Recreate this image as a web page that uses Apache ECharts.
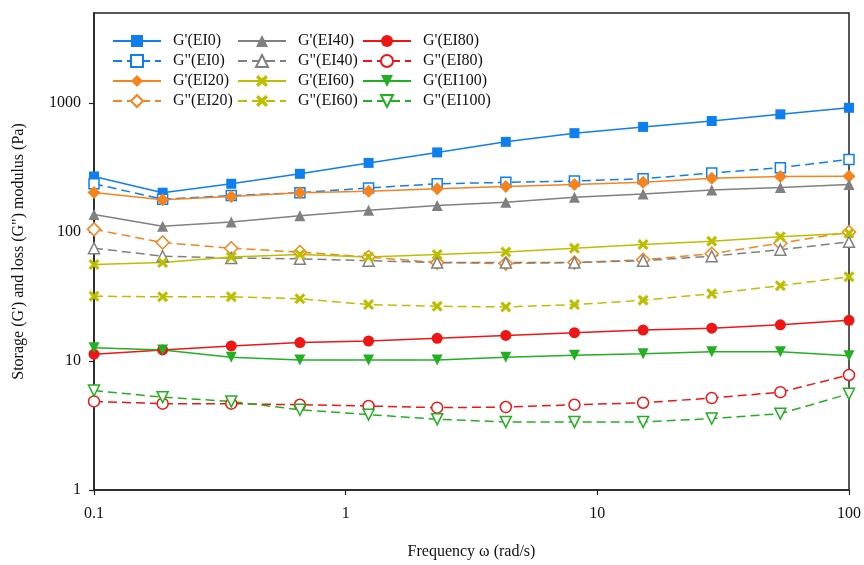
<!DOCTYPE html>
<html>
<head>
<meta charset="utf-8">
<script src="https://cdn.jsdelivr.net/npm/echarts@6/dist/echarts.min.js"></script>
<style>
html,body{margin:0;padding:0;background:#fff;}
#chart{width:864px;height:565px;}
</style>
</head>
<body>
<div id="chart"></div>
<script>
// Frequency (rad/s)
const freq = [0.1, 0.1874, 0.3511, 0.6579, 1.233, 2.31, 4.329, 8.111, 15.2, 28.48, 53.37, 100];

const gp_EI0   = [270, 202, 237, 283, 344, 415, 501, 585, 654, 727, 819, 920];
const gpp_EI0  = [237, 180, 192, 202, 220, 237, 243, 249, 259, 287, 316, 366];
const gp_EI20  = [203, 178, 189, 202, 207, 217, 226, 234, 243, 261, 270, 271];
const gpp_EI20 = [105, 83, 75, 70, 64, 58, 57, 58, 61, 68, 82, 100];
const gp_EI40  = [137, 111, 120, 134, 148, 161, 170, 186, 197, 212, 222, 234];
const gpp_EI40 = [75, 65, 63, 62, 60, 58, 58, 58, 60, 65, 73, 84];
const gp_EI60  = [56, 58, 64, 67, 64, 67, 70, 75, 80, 85, 92, 98];
const gpp_EI60 = [31.8, 31.5, 31.5, 30.4, 27.4, 26.6, 26.3, 27.4, 29.6, 33.3, 38.4, 45];
const gp_EI80  = [11.3, 12.2, 13.1, 13.9, 14.3, 15.0, 15.8, 16.6, 17.4, 18.0, 19.1, 20.7];
const gpp_EI80 = [4.86, 4.67, 4.67, 4.58, 4.48, 4.35, 4.40, 4.58, 4.75, 5.16, 5.74, 7.8];
const gp_EI100 = [12.7, 12.2, 10.7, 10.2, 10.2, 10.2, 10.7, 11.1, 11.4, 11.8, 11.8, 11.0];
const gpp_EI100= [5.9, 5.25, 4.86, 4.19, 3.84, 3.54, 3.37, 3.37, 3.37, 3.58, 3.91, 5.57];

const xTicks = [0.1, 1, 10, 100];
const yTicks = [1, 10, 100, 1000];

const FONT = "'Liberation Serif', 'Times New Roman', serif";
const C = {
  blue: '#0f7ff0', orange: '#f5841f', gray: '#808080',
  olive: '#bcbf00', red: '#ee1515', green: '#22b022'
};
const XSYM = 'path://M0,2 L2,0 L5,3 L8,0 L10,2 L7,5 L10,8 L8,10 L5,7 L2,10 L0,8 L3,5 Z';

function mk(name, vals, color, symbol, size, filled, dashed, rotate) {
  return {
    name: name,
    type: 'line',
    data: freq.map((f, i) => [f, vals[i]]),
    symbol: symbol,
    symbolSize: size,
    symbolRotate: rotate || 0,
    showAllSymbol: true,
    color: color,
    lineStyle: { color: color, width: 1.5, type: dashed ? [9, 5] : 'solid' },
    itemStyle: filled ? { color: color, borderWidth: 0 } : { color: '#ffffff', borderColor: color, borderWidth: 1.5 },
    emphasis: { disabled: true },
    animation: false,
    z: 3
  };
}

const series = [
  mk("G'(EI0)", gp_EI0, C.blue, 'rect', 10, true, false),
  mk('G"(EI0)', gpp_EI0, C.blue, 'rect', 10, false, true),
  mk("G'(EI20)", gp_EI20, C.orange, 'diamond', 13, true, false),
  mk('G"(EI20)', gpp_EI20, C.orange, 'diamond', 13, false, true),
  mk("G'(EI40)", gp_EI40, C.gray, 'triangle', 11, true, false),
  mk('G"(EI40)', gpp_EI40, C.gray, 'triangle', 11, false, true),
  mk("G'(EI60)", gp_EI60, C.olive, XSYM, 11, true, false),
  mk('G"(EI60)', gpp_EI60, C.olive, XSYM, 11, true, true),
  mk("G'(EI80)", gp_EI80, C.red, 'circle', 11, true, false),
  mk('G"(EI80)', gpp_EI80, C.red, 'circle', 11, false, true),
  mk("G'(EI100)", gp_EI100, C.green, 'triangle', 11, true, false, 180),
  mk('G"(EI100)', gpp_EI100, C.green, 'triangle', 11, false, true, 180)
];

function legendCol(left, names) {
  return {
    show: true,
    orient: 'vertical',
    left: left,
    top: 33,
    padding: 0,
    itemWidth: 48,
    itemHeight: 15,
    itemGap: 4,
    selectedMode: false,
    data: names,
    textStyle: { fontFamily: FONT, fontSize: 16, color: '#111', padding: [0, 0, 0, 7] }
  };
}

const option = {
  backgroundColor: '#ffffff',
  animation: false,
  grid: { left: 94, right: 13, top: 13, bottom: 73, show: true, borderColor: '#222', borderWidth: 1.5, backgroundColor: 'transparent' },
  legend: [
    legendCol(112, ["G'(EI0)", 'G"(EI0)', "G'(EI20)", 'G"(EI20)']),
    legendCol(237, ["G'(EI40)", 'G"(EI40)', "G'(EI60)", 'G"(EI60)']),
    legendCol(362, ["G'(EI80)", 'G"(EI80)', "G'(EI100)", 'G"(EI100)'])
  ],
  xAxis: {
    type: 'log',
    logBase: 10,
    min: 0.1,
    max: 100,
    name: 'Frequency \u03c9 (rad/s)',
    nameLocation: 'middle',
    nameGap: 54,
    nameTextStyle: { fontFamily: FONT, fontSize: 16, color: '#111' },
    axisLine: { show: true, lineStyle: { color: '#222', width: 1.5 } },
    axisTick: { show: true, length: 5, inside: false, lineStyle: { color: '#222', width: 1.2 }, customValues: xTicks },
    minorTick: { show: false },
    splitLine: { show: false },
    axisLabel: { fontFamily: FONT, fontSize: 16, color: '#111', margin: 16, customValues: xTicks,
      formatter: v => String(v) }
  },
  yAxis: {
    type: 'log',
    logBase: 10,
    min: 1,
    max: 5000,
    name: 'Storage (G\') and loss (G") modulus (Pa)',
    nameLocation: 'middle',
    nameGap: 67,
    nameTextStyle: { fontFamily: FONT, fontSize: 16, color: '#111' },
    axisLine: { show: true, lineStyle: { color: '#222', width: 1.5 } },
    axisTick: { show: true, length: 5, inside: false, lineStyle: { color: '#222', width: 1.2 }, customValues: yTicks },
    minorTick: { show: false },
    splitLine: { show: false },
    axisLabel: { fontFamily: FONT, fontSize: 16, color: '#111', margin: 13, customValues: yTicks,
      formatter: v => String(v) }
  },
  series: series
};

const chart = echarts.init(document.getElementById('chart'), null, { renderer: 'canvas' });
chart.setOption(option);
</script>
</body>
</html>
